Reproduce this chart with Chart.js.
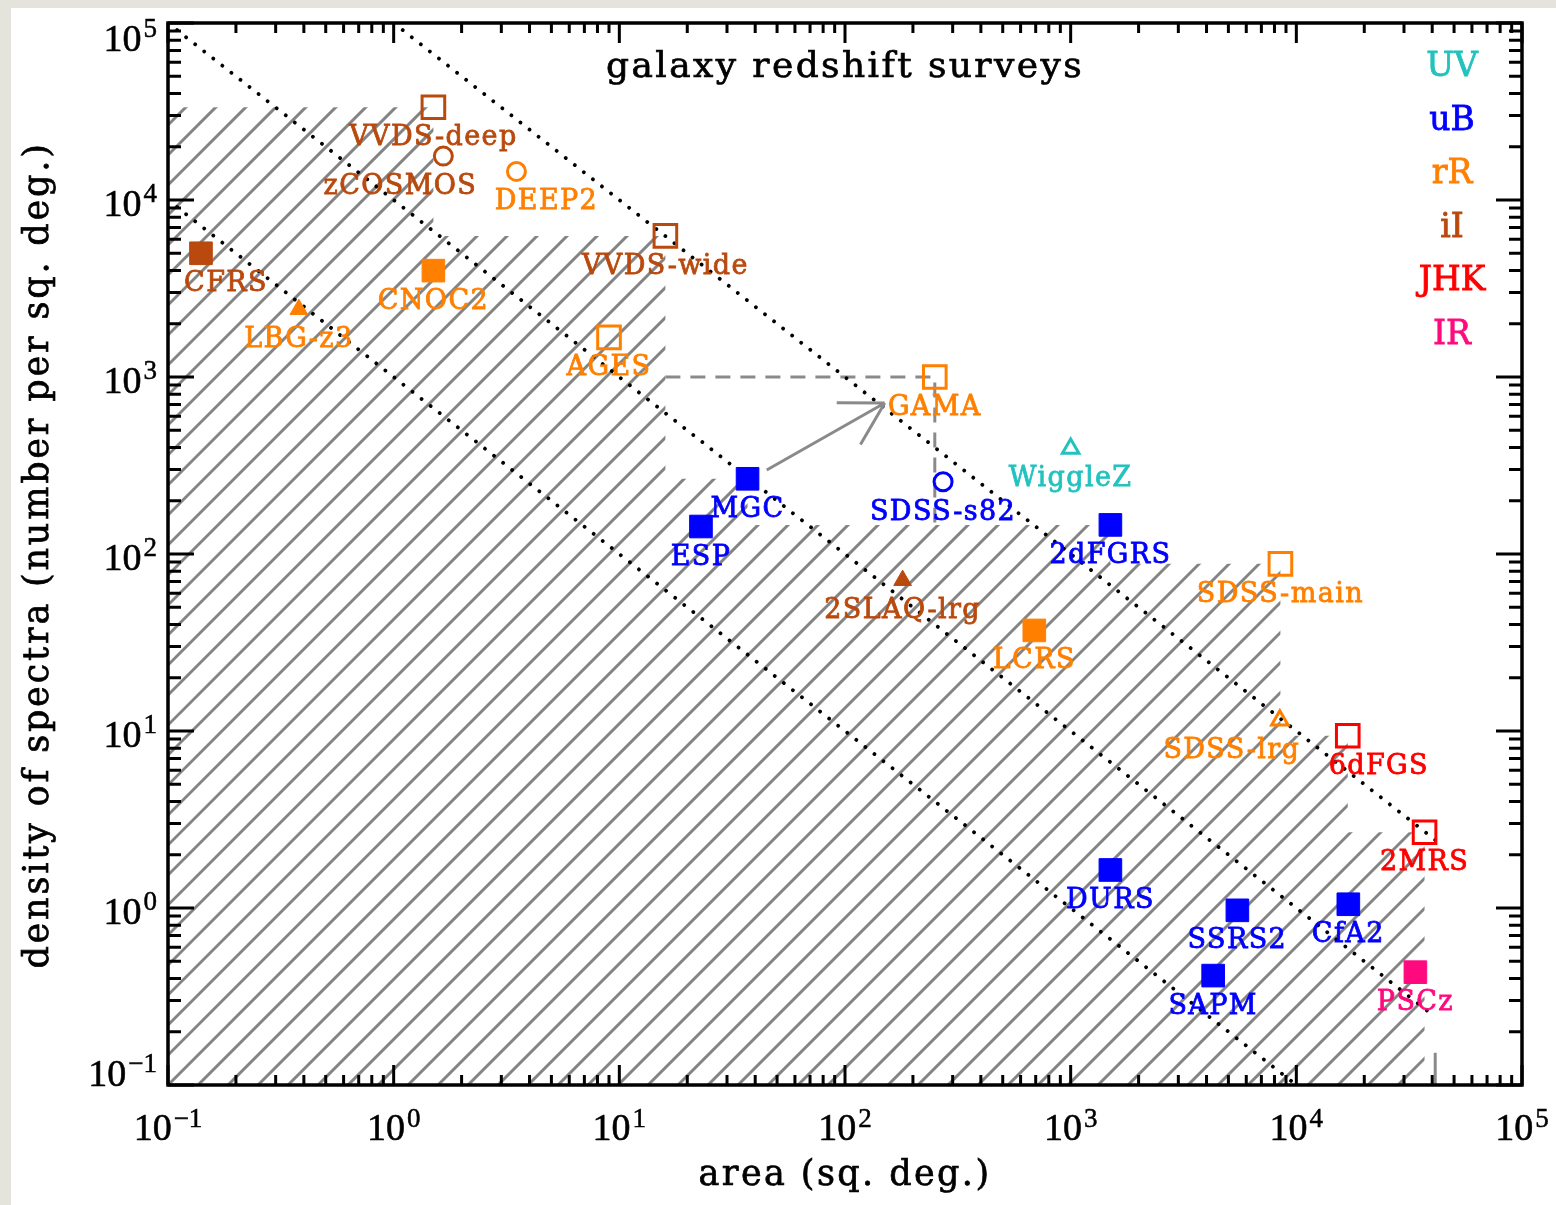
<!DOCTYPE html>
<html>
<head>
<meta charset="utf-8">
<title>galaxy redshift surveys</title>
<script src="https://cdn.jsdelivr.net/npm/chart.js@4.4.1/dist/chart.umd.min.js"></script>
<style>
  html, body { margin: 0; padding: 0; background: #ffffff; }
  canvas { display: block; }
</style>
</head>
<body>
<canvas id="surveyChart" width="1556" height="1205"></canvas>
<script>
// survey name, area (sq. deg.) and density of spectra (per sq. deg.)
var surveyNames = ['CFRS', 'VVDS-deep', 'zCOSMOS', 'DEEP2', 'CNOC2', 'LBG-z3', 'VVDS-wide', 'AGES', 'GAMA',
    'MGC', 'ESP', 'SDSS-s82', 'WiggleZ', '2SLAQ-lrg', '2dFGRS', 'LCRS', 'SDSS-main', 'SDSS-lrg',
    '6dFGS', '2MRS', 'DURS', 'SSRS2', 'CfA2', 'SAPM', 'PSCz'];
var surveyArea = [0.14, 1.5, 1.66, 3.5, 1.5, 0.38, 16, 9.0, 250,
    37, 23, 272, 1000, 180, 1500, 690, 8500, 8450,
    16900, 37000, 1500, 5480, 17000, 4280, 33700];
var surveyDensity = [5000, 33400, 17700, 14500, 3990, 2410, 6270, 1675, 1000,
    266, 143, 256, 395, 71, 146, 37, 88, 11.5,
    9.4, 2.68, 1.64, 0.97, 1.05, 0.415, 0.434];
var surveyBand = ['iI', 'iI', 'iI', 'rR', 'rR', 'rR', 'iI', 'rR', 'rR',
    'uB', 'uB', 'uB', 'UV', 'iI', 'uB', 'rR', 'rR', 'rR',
    'JHK', 'JHK', 'uB', 'uB', 'uB', 'uB', 'IR'];
// sq = filled square, osq = open square, oc = open circle, tri / otri = filled / open triangle
var surveySymbol = ['sq', 'osq', 'oc', 'oc', 'sq', 'tri', 'osq', 'osq', 'osq',
    'sq', 'sq', 'oc', 'otri', 'tri', 'sq', 'sq', 'osq', 'otri',
    'osq', 'osq', 'sq', 'sq', 'sq', 'sq', 'sq'];
var plannedSurveys = ['GAMA'];

var bandNames = ['UV', 'uB', 'rR', 'iI', 'JHK', 'IR'];
var bandColors = ['#22c2bf', '#0000ff', '#ff8000', '#b9490d', '#ff0000', '#ff0a7e'];

// lines of constant number of spectra
var numberLines = [1e5, 1e4, 1e3];
var numberLineAreas = [[1, 41253], [0.1, 41253], [0.1, 1e4]];

var gamaArea = [16, 250, 250];
var gamaDensity = [1000, 1000, 140];
var arrowFrom = [45, 298];
var arrowTo = [150, 713];
var fullSky = 41253;

var xExponents = [-1, 0, 1, 2, 3, 4, 5];
var yExponents = [-1, 0, 1, 2, 3, 4, 5];

var SERIF = '"DejaVu Serif"';

function bandColor(i) {
    return bandColors[bandNames.indexOf(surveyBand[i])];
}
function isFilled(s) {
    return s === 'sq' || s === 'tri';
}

var points = surveyNames.map(function (n, i) {
    return { x: surveyArea[i], y: surveyDensity[i] };
});

var labelShift = { 'CFRS': 25, 'zCOSMOS': -43, 'DEEP2': 30, 'SDSS-lrg': -48, '6dFGS': 31 };

// fill plus a thin stroke in the same colour, for slightly heavier text
function heavyText(ctx, text, x, y, weight) {
    ctx.fillText(text, x, y);
    ctx.lineWidth = weight;
    ctx.strokeStyle = ctx.fillStyle;
    ctx.strokeText(text, x, y);
}

function drawPower(ctx, exp, x, y, align) {
    var base = '10';
    var sup = exp < 0 ? '\u2212' + (-exp) : String(exp);
    ctx.font = '38px "Liberation Serif"';
    var wb = ctx.measureText(base).width;
    ctx.font = '27px "Liberation Serif"';
    var ws = ctx.measureText(sup).width;
    var total = wb + 2 + ws;
    var left = align === 'center' ? x - total / 2 : x - total;
    ctx.textAlign = 'left';
    ctx.textBaseline = 'alphabetic';
    ctx.font = '38px "Liberation Serif"';
    heavyText(ctx, base, left, y, 0.6);
    ctx.font = '27px "Liberation Serif"';
    heavyText(ctx, sup, left + wb + 2, y - 13.5, 0.5);
}

var surveyDecor = {
    id: 'surveyDecor',
    beforeDraw: function (chart) {
        var ctx = chart.ctx;
        ctx.save();
        ctx.fillStyle = '#e4e4dd';
        ctx.fillRect(0, 0, chart.width, chart.height);
        ctx.fillStyle = '#ffffff';
        ctx.fillRect(11, 8, chart.width - 11, chart.height - 8);
        ctx.restore();
    },
    beforeDatasetsDraw: function (chart) {
        // hatch the area already covered by the completed surveys
        var ctx = chart.ctx, xs = chart.scales.x, ys = chart.scales.y, a = chart.chartArea;
        ctx.save();
        ctx.beginPath();
        surveyNames.forEach(function (n, i) {
            var s = surveySymbol[i];
            if ((s === 'sq' || s === 'osq') && plannedSurveys.indexOf(n) < 0) {
                var px = xs.getPixelForValue(surveyArea[i]);
                var py = ys.getPixelForValue(surveyDensity[i]);
                ctx.rect(a.left, py, px - a.left, a.bottom - py);
            }
        });
        ctx.clip();
        ctx.beginPath();
        var h = a.bottom - a.top;
        for (var x0 = a.left - Math.ceil(h / 30) * 30; x0 < a.right; x0 += 30) {
            ctx.moveTo(x0, a.bottom);
            ctx.lineTo(x0 + h, a.top);
        }
        ctx.strokeStyle = '#848484';
        ctx.lineWidth = 3;
        ctx.stroke();
        ctx.restore();
    },
    afterDatasetsDraw: function (chart) {
        var ctx = chart.ctx, xs = chart.scales.x, ys = chart.scales.y, a = chart.chartArea;
        ctx.save();

        // arrow from MGC towards GAMA
        var x0 = xs.getPixelForValue(arrowFrom[0]), y0 = ys.getPixelForValue(arrowFrom[1]);
        var x1 = xs.getPixelForValue(arrowTo[0]), y1 = ys.getPixelForValue(arrowTo[1]);
        var ang = Math.atan2(y1 - y0, x1 - x0);
        ctx.strokeStyle = '#8a8a8a';
        ctx.lineWidth = 3;
        ctx.beginPath();
        ctx.moveTo(x0, y0);
        ctx.lineTo(x1, y1);
        [-1, 1].forEach(function (s) {
            ctx.moveTo(x1, y1);
            ctx.lineTo(x1 - 48 * Math.cos(ang + s * Math.PI / 6), y1 - 48 * Math.sin(ang + s * Math.PI / 6));
        });
        ctx.stroke();

        // frame and inward ticks
        ctx.strokeStyle = '#000000';
        ctx.lineWidth = 3;
        ctx.beginPath();
        for (var e = -1; e <= 5; e++) {
            for (var m = 1; m <= 9; m++) {
                var v = m * Math.pow(10, e);
                if (v > 1e5 * 1.0001) break;
                var major = m === 1;
                var px = xs.getPixelForValue(v);
                var lx = major ? 20 : 10;
                ctx.moveTo(px, a.bottom); ctx.lineTo(px, a.bottom - lx);
                ctx.moveTo(px, a.top); ctx.lineTo(px, a.top + lx);
                var py = ys.getPixelForValue(v);
                var ly = major ? 26 : 13;
                ctx.moveTo(a.left, py); ctx.lineTo(a.left + ly, py);
                ctx.moveTo(a.right, py); ctx.lineTo(a.right - ly, py);
            }
        }
        ctx.stroke();
        ctx.lineWidth = 3.5;
        ctx.strokeRect(a.left, a.top, a.right - a.left, a.bottom - a.top);

        // tick labels
        ctx.fillStyle = '#000000';
        xExponents.forEach(function (e) {
            drawPower(ctx, e, xs.getPixelForValue(Math.pow(10, e)), a.bottom + 55, 'center');
        });
        yExponents.forEach(function (e) {
            var py = ys.getPixelForValue(Math.pow(10, e));
            var off = e === 5 ? 27.5 : (e === -1 ? 0.5 : 15.5);
            drawPower(ctx, e, 157, py + off, 'right');
        });

        // titles
        ctx.fillStyle = '#000000';
        ctx.textBaseline = 'alphabetic';
        ctx.textAlign = 'center';
        ctx.letterSpacing = '2.4px';
        ctx.font = '36px ' + SERIF;
        heavyText(ctx, 'galaxy redshift surveys', 845, 77, 0.7);
        ctx.font = '35px ' + SERIF;
        heavyText(ctx, 'area (sq. deg.)', (a.left + a.right) / 2, 1185, 0.7);
        ctx.save();
        ctx.translate(48, 555);
        ctx.rotate(-Math.PI / 2);
        ctx.letterSpacing = '2.8px';
        heavyText(ctx, 'density of spectra (number per sq. deg.)', 0, 0, 0.7);
        ctx.restore();

        // survey labels under each marker
        var meta = chart.getDatasetMeta(0);
        ctx.letterSpacing = '1.4px';
        ctx.font = '27px ' + SERIF;
        ctx.textAlign = 'center';
        surveyNames.forEach(function (n, i) {
            var pt = meta.data[i];
            var dx = labelShift[n] || 0;
            ctx.fillStyle = bandColor(i);
            heavyText(ctx, n, pt.x + dx, pt.y + 38, 0.8);
        });

        // band key
        ctx.letterSpacing = '0px';
        ctx.font = '33px ' + SERIF;
        bandNames.forEach(function (b, k) {
            ctx.fillStyle = bandColors[k];
            heavyText(ctx, b, 1452, 76 + k * 53.5, 0.8);
        });
        ctx.restore();
    }
};

var datasets = [{
    label: 'surveys',
    data: points,
    showLine: false,
    pointStyle: surveySymbol.map(function (s) {
        return { sq: 'rect', osq: 'rect', oc: 'circle', tri: 'triangle', otri: 'triangle' }[s];
    }),
    pointRadius: surveySymbol.map(function (s) {
        return { sq: 16, osq: 16, oc: 9, tri: 10.2, otri: 9.5 }[s];
    }),
    pointBackgroundColor: surveySymbol.map(function (s, i) {
        return isFilled(s) ? bandColor(i) : 'rgba(0,0,0,0)';
    }),
    pointBorderColor: surveySymbol.map(function (s, i) { return bandColor(i); }),
    pointBorderWidth: surveySymbol.map(function (s) { return isFilled(s) ? 1 : 3; })
}];

numberLines.forEach(function (N, k) {
    datasets.push({
        label: 'N = ' + N,
        data: numberLineAreas[k].map(function (ar) { return { x: ar, y: N / ar }; }),
        showLine: true,
        pointRadius: 0,
        borderColor: '#000000',
        borderWidth: 3.8,
        borderDash: [0.01, 11.5],
        borderCapStyle: 'round',
        fill: false
    });
});

datasets.push({
    label: 'GAMA target',
    data: gamaArea.map(function (ar, i) { return { x: ar, y: gamaDensity[i] }; }),
    showLine: true,
    pointRadius: 0,
    borderColor: '#8a8a8a',
    borderWidth: 3,
    borderDash: [15, 10],
    fill: false
});

datasets.push({
    label: 'full sky',
    data: [{ x: fullSky, y: 0.1 }, { x: fullSky, y: 0.152 }],
    showLine: true,
    pointRadius: 0,
    borderColor: '#8a8a8a',
    borderWidth: 3,
    fill: false
});

var ctx = document.getElementById('surveyChart').getContext('2d');
var myChart = new Chart(ctx, {
    type: 'scatter',
    data: { datasets: datasets },
    options: {
        responsive: false,
        animation: false,
        devicePixelRatio: 1,
        events: [],
        layout: { padding: { left: 168, top: 23, right: 34, bottom: 120 } },
        plugins: {
            legend: { display: false },
            tooltip: { enabled: false }
        },
        scales: {
            x: { type: 'logarithmic', min: 0.1, max: 1e5, display: false },
            y: { type: 'logarithmic', min: 0.1, max: 1e5, display: false }
        }
    },
    plugins: [surveyDecor]
});
</script>
</body>
</html>
